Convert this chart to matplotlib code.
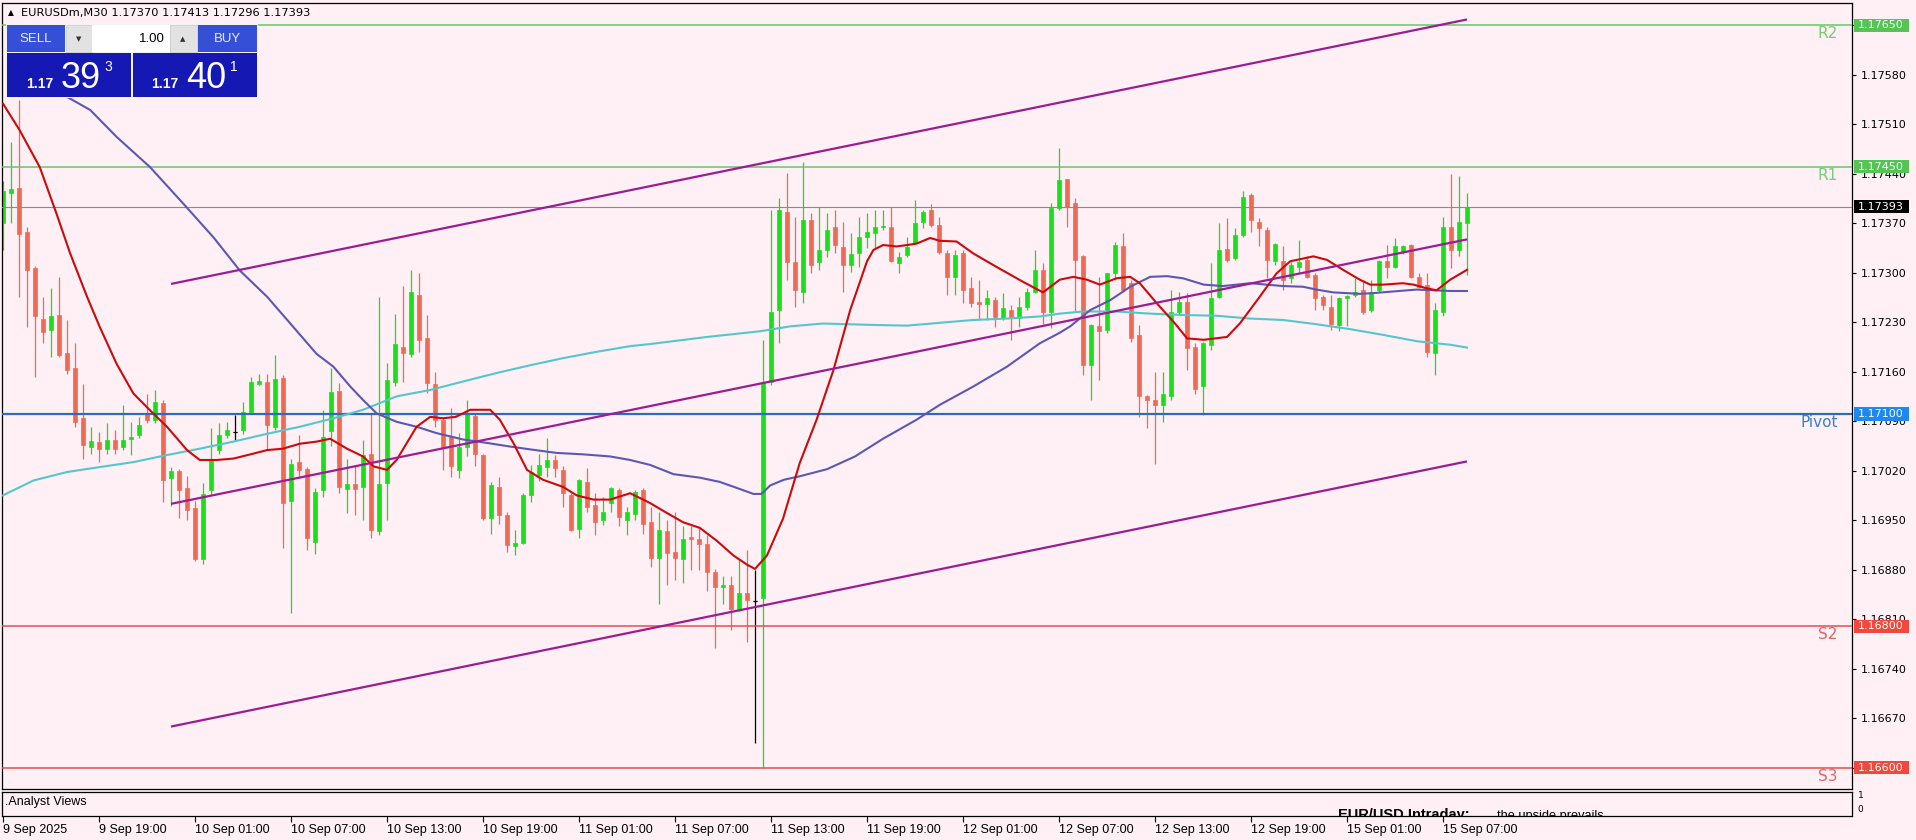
import matplotlib
matplotlib.use('Agg')
import matplotlib.pyplot as plt
import matplotlib.transforms as mtransforms
from matplotlib.patches import Rectangle
import numpy as np

plt.rcParams['font.family'] = ['DejaVu Sans']

W, H = 1916, 840
BG = '#FEF0F4'
BULL = '#18E018'
BEAR = '#EE6A55'

# ---------------- data ----------------
opens = [
1.17370, 1.17413, 1.17419, 1.17358, 1.17306, 1.17235, 1.17219, 1.17240, 1.17186, 1.17165,
1.17094, 1.17054, 1.17061, 1.17051, 1.17063, 1.17054, 1.17065, 1.17070, 1.17101, 1.17091,
1.17115, 1.17009, 1.17019, 1.16995, 1.16967, 1.16895, 1.16992, 1.17049, 1.17070, 1.17075,
1.17077, 1.17103, 1.17143, 1.17146, 1.17082, 1.17151, 1.16977, 1.17032, 1.17022, 1.16919,
1.16993, 1.17076, 1.17132, 1.16994, 1.17001, 1.16997, 1.17044, 1.16934, 1.17002, 1.17146,
1.17195, 1.17185, 1.17269, 1.17207, 1.17142, 1.17092, 1.17068, 1.17021, 1.17054, 1.17097,
1.17042, 1.16953, 1.16997, 1.16957, 1.16914, 1.16918, 1.16986, 1.17014, 1.17025, 1.17035,
1.17021, 1.16985, 1.16938, 1.17004, 1.16971, 1.16950, 1.16974, 1.16993, 1.16950, 1.16959,
1.16993, 1.16948, 1.16896, 1.16934, 1.16905, 1.16895, 1.16926, 1.16923, 1.16916, 1.16876,
1.16855, 1.16858, 1.16824, 1.16847, 1.16836, 1.16840, 1.17145, 1.17247, 1.17386, 1.17315,
1.17272, 1.17374, 1.17315, 1.17332, 1.17364, 1.17336, 1.17311, 1.17328, 1.17350, 1.17356,
1.17364, 1.17364, 1.17314, 1.17325, 1.17342, 1.17372, 1.17388, 1.17367, 1.17328, 1.17294,
1.17328, 1.17278, 1.17258, 1.17255, 1.17261, 1.17236, 1.17247, 1.17236, 1.17251, 1.17273,
1.17304, 1.17244, 1.17391, 1.17432, 1.17399, 1.17323, 1.17169, 1.17224, 1.17219, 1.17299,
1.17337, 1.17285, 1.17212, 1.17125, 1.17120, 1.17113, 1.17125, 1.17245, 1.17259, 1.17195,
1.17139, 1.17198, 1.17266, 1.17334, 1.17320, 1.17353, 1.17410, 1.17372, 1.17360, 1.17316,
1.17316, 1.17292, 1.17308, 1.17318, 1.17297, 1.17266, 1.17252, 1.17226, 1.17264, 1.17268,
1.17275, 1.17247, 1.17275, 1.17316, 1.17308, 1.17330, 1.17339, 1.17294, 1.17283, 1.17186,
1.17245, 1.17365, 1.17332, 1.17370]

highs = [
1.17430, 1.17485, 1.17544, 1.17365, 1.17310, 1.17266, 1.17278, 1.17294, 1.17233, 1.17200,
1.17143, 1.17082, 1.17075, 1.17087, 1.17077, 1.17113, 1.17089, 1.17096, 1.17129, 1.17134,
1.17120, 1.17025, 1.17022, 1.17012, 1.16977, 1.17002, 1.17080, 1.17087, 1.17089, 1.17099,
1.17117, 1.17153, 1.17157, 1.17157, 1.17183, 1.17155, 1.17036, 1.17070, 1.17025, 1.16995,
1.17105, 1.17165, 1.17144, 1.17037, 1.17026, 1.17063, 1.17101, 1.17266, 1.17172, 1.17242,
1.17281, 1.17304, 1.17299, 1.17240, 1.17160, 1.17094, 1.17108, 1.17073, 1.17120, 1.17101,
1.17043, 1.17004, 1.17011, 1.16962, 1.16936, 1.16989, 1.17028, 1.17043, 1.17066, 1.17042,
1.17026, 1.16988, 1.17008, 1.17023, 1.16988, 1.16983, 1.16997, 1.16995, 1.16969, 1.16993,
1.16995, 1.16969, 1.16962, 1.16950, 1.16962, 1.16942, 1.16942, 1.16939, 1.16929, 1.16881,
1.16871, 1.16871, 1.16895, 1.16908, 1.16879, 1.17205, 1.17388, 1.17405, 1.17441, 1.17379,
1.17456, 1.17384, 1.17393, 1.17384, 1.17388, 1.17371, 1.17356, 1.17379, 1.17384, 1.17388,
1.17388, 1.17393, 1.17329, 1.17350, 1.17403, 1.17388, 1.17397, 1.17379, 1.17332, 1.17332,
1.17332, 1.17294, 1.17290, 1.17275, 1.17265, 1.17271, 1.17254, 1.17265, 1.17278, 1.17332,
1.17314, 1.17398, 1.17476, 1.17433, 1.17406, 1.17325, 1.17228, 1.17294, 1.17300, 1.17344,
1.17356, 1.17290, 1.17226, 1.17127, 1.17160, 1.17160, 1.17275, 1.17273, 1.17271, 1.17200,
1.17202, 1.17313, 1.17370, 1.17377, 1.17363, 1.17415, 1.17412, 1.17377, 1.17365, 1.17342,
1.17337, 1.17315, 1.17346, 1.17323, 1.17299, 1.17268, 1.17268, 1.17266, 1.17269, 1.17292,
1.17290, 1.17290, 1.17318, 1.17339, 1.17349, 1.17339, 1.17341, 1.17299, 1.17299, 1.17257,
1.17379, 1.17440, 1.17436, 1.17413]

lows = [
1.17332, 1.17370, 1.17266, 1.17223, 1.17153, 1.17200, 1.17181, 1.17181, 1.17157, 1.17082,
1.17037, 1.17044, 1.17032, 1.17044, 1.17044, 1.17049, 1.17042, 1.17066, 1.17087, 1.17087,
1.16975, 1.16970, 1.16953, 1.16950, 1.16892, 1.16888, 1.16985, 1.17044, 1.17066, 1.17063,
1.17072, 1.17101, 1.17141, 1.17049, 1.17077, 1.16911, 1.16819, 1.17009, 1.16908, 1.16902,
1.16983, 1.17055, 1.16988, 1.16960, 1.16957, 1.16950, 1.16924, 1.16929, 1.16950, 1.17139,
1.17146, 1.17181, 1.17188, 1.17130, 1.17082, 1.17021, 1.17011, 1.17009, 1.17040, 1.17026,
1.16950, 1.16931, 1.16945, 1.16905, 1.16900, 1.16916, 1.16976, 1.17005, 1.17011, 1.17011,
1.16969, 1.16934, 1.16924, 1.16962, 1.16929, 1.16943, 1.16962, 1.16941, 1.16929, 1.16950,
1.16931, 1.16884, 1.16832, 1.16858, 1.16865, 1.16861, 1.16879, 1.16879, 1.16850, 1.16769,
1.16832, 1.16795, 1.16821, 1.16777, 1.16635, 1.16600, 1.17141, 1.17200, 1.17290, 1.17251,
1.17257, 1.17299, 1.17304, 1.17322, 1.17328, 1.17272, 1.17301, 1.17308, 1.17335, 1.17335,
1.17360, 1.17315, 1.17299, 1.17322, 1.17342, 1.17363, 1.17364, 1.17326, 1.17268, 1.17268,
1.17257, 1.17251, 1.17233, 1.17233, 1.17223, 1.17233, 1.17205, 1.17223, 1.17247, 1.17271,
1.17228, 1.17222, 1.17389, 1.17365, 1.17245, 1.17155, 1.17120, 1.17148, 1.17214, 1.17290,
1.17273, 1.17202, 1.17096, 1.17080, 1.17030, 1.17089, 1.17120, 1.17242, 1.17162, 1.17129,
1.17098, 1.17191, 1.17264, 1.17315, 1.17318, 1.17351, 1.17358, 1.17337, 1.17292, 1.17311,
1.17275, 1.17285, 1.17299, 1.17292, 1.17247, 1.17247, 1.17219, 1.17217, 1.17224, 1.17266,
1.17242, 1.17245, 1.17273, 1.17292, 1.17306, 1.17327, 1.17293, 1.17278, 1.17181, 1.17155,
1.17238, 1.17306, 1.17323, 1.17296]

closes = [
1.17415, 1.17418, 1.17355, 1.17304, 1.17238, 1.17216, 1.17238, 1.17183, 1.17162, 1.17089,
1.17056, 1.17062, 1.17051, 1.17063, 1.17051, 1.17063, 1.17067, 1.17084, 1.17091, 1.17117,
1.17007, 1.17019, 1.16992, 1.16964, 1.16895, 1.16987, 1.17035, 1.17070, 1.17077, 1.17075,
1.17103, 1.17146, 1.17147, 1.17084, 1.17150, 1.16974, 1.17029, 1.17021, 1.16925, 1.16990,
1.17068, 1.17131, 1.16997, 1.17001, 1.16994, 1.17042, 1.16936, 1.17001, 1.17148, 1.17199,
1.17187, 1.17273, 1.17205, 1.17144, 1.17092, 1.17054, 1.17026, 1.17054, 1.17101, 1.17043,
1.16953, 1.17000, 1.16957, 1.16915, 1.16918, 1.16986, 1.17018, 1.17028, 1.17035, 1.17023,
1.16988, 1.16936, 1.17007, 1.16969, 1.16948, 1.16962, 1.16995, 1.16955, 1.16962, 1.16990,
1.16945, 1.16896, 1.16936, 1.16903, 1.16896, 1.16923, 1.16923, 1.16916, 1.16876, 1.16855,
1.16858, 1.16824, 1.16847, 1.16837, 1.16836, 1.17144, 1.17244, 1.17389, 1.17315, 1.17275,
1.17374, 1.17311, 1.17332, 1.17360, 1.17339, 1.17311, 1.17326, 1.17350, 1.17357, 1.17364,
1.17366, 1.17316, 1.17322, 1.17336, 1.17370, 1.17386, 1.17367, 1.17329, 1.17294, 1.17325,
1.17275, 1.17257, 1.17256, 1.17264, 1.17237, 1.17250, 1.17236, 1.17251, 1.17273, 1.17304,
1.17244, 1.17391, 1.17431, 1.17393, 1.17318, 1.17169, 1.17226, 1.17217, 1.17299, 1.17339,
1.17275, 1.17207, 1.17125, 1.17120, 1.17113, 1.17128, 1.17245, 1.17259, 1.17193, 1.17136,
1.17200, 1.17264, 1.17332, 1.17318, 1.17353, 1.17407, 1.17374, 1.17363, 1.17318, 1.17341,
1.17290, 1.17311, 1.17315, 1.17294, 1.17264, 1.17254, 1.17228, 1.17264, 1.17267, 1.17273,
1.17245, 1.17273, 1.17316, 1.17308, 1.17337, 1.17338, 1.17294, 1.17280, 1.17188, 1.17247,
1.17365, 1.17332, 1.17372, 1.17393]

# moving averages (bar position, price)
red_ma_x = [0, 2.1, 4.6, 6.7, 8.4, 10.5, 12.1, 14.2, 16.3, 18.4, 20.5, 23, 24.6, 26.7, 28.8,
            31.3, 33, 35, 37.1, 39.2, 40.9, 43, 45, 46.3, 48, 49.2, 51.7, 53.4, 55, 56.6,
            58.4, 60.9, 62.1, 63.8, 65.5, 67.5, 70, 71.7, 73.8, 75.9, 78.4, 80.9, 83, 85, 87.1,
            89.2, 91.3, 93, 94, 95.5, 97.5, 99.6, 101.7, 103.8, 105.9, 108, 108.8, 110, 111.7, 113,
            114.2, 115.9, 117.1, 119.2, 121.3, 124.2, 127.5, 130, 132.1, 133.8, 135.5, 137.1, 139.2,
            140.9, 142.1, 144.2, 146.5, 148, 150.1, 153, 154.6, 157.1, 159.2, 160.9, 163.8, 165.5,
            167.5, 169.6, 170.9, 172.5, 175, 176.3, 177.9, 179.2, 180.9, 183]
red_ma_y = [1.17539, 1.17501, 1.17449, 1.17383, 1.17327, 1.17266, 1.17223, 1.17171, 1.17129,
            1.17105, 1.17082, 1.17049, 1.17035, 1.17035, 1.17037, 1.17044, 1.17049, 1.17051,
            1.17058, 1.17061, 1.17065, 1.17051, 1.17040, 1.17026, 1.17021, 1.17035, 1.17082,
            1.17096, 1.17094, 1.17096, 1.17106, 1.17106, 1.17092, 1.17059, 1.17021, 1.17007,
            1.16997, 1.16985, 1.16979, 1.16979, 1.16988, 1.16974, 1.16960, 1.16947, 1.16939,
            1.16921, 1.16900, 1.16887, 1.16881, 1.16900, 1.16952, 1.17031, 1.17092, 1.17162,
            1.17247, 1.17316, 1.17332, 1.17339, 1.17337, 1.17339, 1.17341, 1.17349, 1.17345,
            1.17344, 1.17327, 1.17308, 1.17287, 1.17272, 1.17290, 1.17294, 1.17290, 1.17283,
            1.17292, 1.17294, 1.17285, 1.17257, 1.17228, 1.17207, 1.17205, 1.17209, 1.17228,
            1.17266, 1.17299, 1.17316, 1.17323, 1.17318, 1.17304, 1.17290, 1.17283, 1.17283,
            1.17285, 1.17283, 1.17278, 1.17275, 1.17290, 1.17304]

blue_ma_x = [4, 8.4, 10.9, 14.2, 18.4, 22.5, 26.3, 29.6, 33, 36.3, 39.2, 41.3, 43.4, 45, 46.7,
             49.2, 51.7, 54.2, 57.5, 60, 63.4, 65.9, 69.2, 72.5, 75.9, 78.4, 80.9, 83.8, 87.1,
             89.6, 92.1, 93.8, 94.8, 95.9, 97.6, 99.6, 103, 106.5, 110, 114.2, 117.1, 121.3,
             125.5, 129.6, 132.1, 133.4, 135.9, 138.4, 140.9, 143.4, 145.5, 147.5, 150.1, 152.5,
             155.9, 160, 162.5, 164.2, 166.3, 169.6, 171.3, 173.4, 176.7, 178.8, 180.9, 183]
blue_ma_y = [1.17574, 1.17546, 1.17530, 1.17492, 1.17449, 1.17398, 1.17350, 1.17303, 1.17266,
             1.17223, 1.17185, 1.17167, 1.17139, 1.17120, 1.17101, 1.17089, 1.17082, 1.17073,
             1.17064, 1.17060, 1.17054, 1.17050, 1.17045, 1.17043, 1.17040, 1.17035, 1.17028,
             1.17015, 1.17010, 1.17004, 1.16994, 1.16987, 1.16987, 1.16999, 1.17007, 1.17012,
             1.17022, 1.17040, 1.17065, 1.17092, 1.17113, 1.17139, 1.17167, 1.17200, 1.17215,
             1.17224, 1.17247, 1.17261, 1.17280, 1.17294, 1.17295, 1.17292, 1.17283, 1.17281,
             1.17285, 1.17281, 1.17280, 1.17276, 1.17272, 1.17270, 1.17271, 1.17273, 1.17276,
             1.17275, 1.17274, 1.17274]

cyan_ma_x = [0, 3.8, 8, 12.1, 16.3, 20.5, 24.6, 28.8, 33, 37.1, 41.3, 45, 49.2, 53.4, 57.5,
             61.7, 65.9, 70, 74.2, 78.4, 80.9, 88, 94.6, 98.4, 102.5, 108.8, 113, 117.1, 121.3,
             125.5, 129.6, 132.1, 135, 139.2, 143.4, 147.5, 151.7, 155.9, 160, 164.2, 168.4,
             172.5, 176.7, 180.9, 183]
cyan_ma_y = [1.16985, 1.17006, 1.17018, 1.17025, 1.17032, 1.17042, 1.17051, 1.17061, 1.17072,
             1.17082, 1.17094, 1.17106, 1.17125, 1.17134, 1.17146, 1.17158, 1.17169, 1.17179,
             1.17188, 1.17196, 1.17199, 1.17209, 1.17217, 1.17224, 1.17228, 1.17226, 1.17225,
             1.17229, 1.17233, 1.17235, 1.17238, 1.17242, 1.17245, 1.17245, 1.17242, 1.17240,
             1.17239, 1.17235, 1.17233, 1.17227, 1.17220, 1.17212, 1.17203, 1.17198, 1.17194]

channel_x = [21, 183]
channel_upper = [1.17284, 1.17658]
channel_middle = [1.16973, 1.17347]
channel_lower = [1.16658, 1.17033]

level_names = ['R2', 'R1', 'Pivot', 'S2', 'S3']
level_values = [1.17650, 1.17450, 1.17100, 1.16800, 1.16600]
level_colors = ['#66C866', '#66C866', '#2470BC', '#E0504A', '#E0504A']
level_text_colors = ['#78CD78', '#78CD78', '#3A80C6', '#E26464', '#E26464']
level_box_colors = ['#55C455', '#55C455', '#1E88F0', '#F2473D', '#F2473D']
last_price = 1.17393

price_ticks = [1.16600, 1.16670, 1.16740, 1.16810, 1.16880, 1.16950, 1.17020, 1.17090,
               1.17160, 1.17230, 1.17300, 1.17370, 1.17440, 1.17510, 1.17580, 1.17650]
time_tick_bars = [0, 12, 24, 36, 48, 60, 72, 84, 96, 108, 120, 132, 144, 156, 168, 180]
time_labels = ['9 Sep 2025', '9 Sep 19:00', '10 Sep 01:00', '10 Sep 07:00', '10 Sep 13:00',
               '10 Sep 19:00', '11 Sep 01:00', '11 Sep 07:00', '11 Sep 13:00', '11 Sep 19:00',
               '12 Sep 01:00', '12 Sep 07:00', '12 Sep 13:00', '12 Sep 19:00', '15 Sep 01:00',
               '15 Sep 07:00']

title_text = 'EURUSDm,M30 1.17370 1.17413 1.17296 1.17393'

# ---------------- figure ----------------
fig = plt.figure(figsize=(W / 100, H / 100), dpi=100, facecolor=BG)
ax = fig.add_axes([2 / W, 1 - 789 / H, 1850 / W, 786 / H])
ax.set_facecolor(BG)
ax.set_xlim(-0.125, 231.125)
ax.set_ylim(1.165697, 1.176813)
for s in ax.spines.values():
    s.set_color('black'); s.set_linewidth(0.9)
ax.set_xticks([])
ax.yaxis.tick_right()
ax.set_yticks(price_ticks)
ax.set_yticklabels([f'{v:.5f}' for v in price_ticks])
ax.tick_params(axis='y', direction='out', length=3, width=0.8, pad=3, labelsize=8, colors='black')

# candles
x = np.arange(len(opens))
o = np.array(opens); hh = np.array(highs); ll = np.array(lows); c = np.array(closes)
cols = np.where(c > o, BULL, np.where(c < o, BEAR, 'black'))
ax.vlines(x, ll, hh, colors=cols, linewidth=0.9, zorder=2)
ax.bar(x, np.abs(c - o), bottom=np.minimum(o, c), width=0.62, color=cols,
       edgecolor=cols, linewidth=0.5, zorder=2.2)
doji = c == o
ax.hlines(o[doji], x[doji] - 0.31, x[doji] + 0.31, colors='black', linewidth=0.9, zorder=2.3)

# level lines
trans = mtransforms.blended_transform_factory(ax.transAxes, ax.transData)
for nm, v, lc in zip(level_names, level_values, level_colors):
    ax.axhline(v, color=lc, linewidth=1.6 if nm == 'Pivot' else 1.1, zorder=2.6)
ax.axhline(last_price, color='#8A8A8A', linewidth=0.8, zorder=2.6)

# moving averages
ax.plot(cyan_ma_x, cyan_ma_y, color='#55C6CC', linewidth=1.5, zorder=3)
ax.plot(blue_ma_x, blue_ma_y, color='#5A58B4', linewidth=1.5, zorder=3.1)
ax.plot(red_ma_x, red_ma_y, color='#CC0A0A', linewidth=1.5, zorder=3.2)

# channel
for ch in (channel_upper, channel_middle, channel_lower):
    ax.plot(channel_x, ch, color='#9C1C94', linewidth=1.6, zorder=3.5, solid_capstyle='butt')

# level labels in chart
lvl_trans = mtransforms.offset_copy(trans, fig=fig, x=0, y=-1, units='dots')
for nm, v, tc in zip(level_names, level_values, level_text_colors):
    ax.text(0.9922, v, nm, transform=lvl_trans, ha='right', va='top', fontsize=11,
            color=tc, zorder=4)

# price boxes on the right scale
box_h = 0.000185
def price_box(v, fc, tc):
    ax.add_patch(Rectangle((1.0011, v - box_h / 2), 0.0297, box_h, transform=trans,
                           facecolor=fc, edgecolor='none', clip_on=False, zorder=5))
    ax.text(1.0157, v, f'{v:.5f}', transform=trans, ha='center', va='center', fontsize=8,
            color=tc, clip_on=False, zorder=6)

for v, bc in zip(level_values, level_box_colors):
    price_box(v, bc, '#F4FFF4')
price_box(last_price, 'black', 'white')

# ---------------- sub window ----------------
sub = fig.add_axes([2 / W, 1 - 816 / H, 1850 / W, 24 / H])
sub.set_facecolor(BG)
sub.set_xlim(-0.125, 231.125)
sub.set_ylim(-0.615, 1.23)
for s in sub.spines.values():
    s.set_color('black'); s.set_linewidth(0.9)
sub.set_xticks(time_tick_bars)
sub.set_xticklabels(time_labels, family='Liberation Sans', fontsize=9)
for lab in sub.get_xticklabels():
    lab.set_horizontalalignment('left')
sub.tick_params(axis='x', direction='out', length=4, width=0.8, pad=1.5, colors='black')
sub.yaxis.tick_right()
sub.set_yticks([0, 1])
sub.set_yticklabels(['0', '1'])
sub.tick_params(axis='y', length=0, pad=4, labelsize=6.5)
sub.text(3 / 1850, 0.6, '.Analyst Views', transform=sub.transAxes, ha='left', va='center',
         fontsize=9, family='Liberation Sans')
sub.text(0.7222, -0.13, 'EUR/USD Intraday:', transform=sub.transAxes, ha='left',
         va='baseline', fontsize=10.5, fontweight='bold', family='Liberation Sans', clip_on=True)
sub.text(0.8081, -0.13, 'the upside prevails.', transform=sub.transAxes, ha='left',
         va='baseline', fontsize=9.2, family='Liberation Sans', clip_on=True)

# ---------------- overlay: title & trading panel ----------------
ov = fig.add_axes([0, 0, 1, 1], zorder=20)
ov.set_xlim(0, W); ov.set_ylim(H, 0); ov.axis('off'); ov.patch.set_alpha(0)

ov.text(11, 13, '\u25b2', ha='center', va='center', fontsize=5.5, color='black')
ov.text(21, 13, title_text, ha='left', va='center', fontsize=8.2, color='black')

def rbox(x0, y0, x1, y1, fc, ec='none', lw=0):
    ov.add_patch(Rectangle((x0, y0), x1 - x0, y1 - y0, facecolor=fc, edgecolor=ec, linewidth=lw))

rbox(6, 24, 258, 98, '#F2F2F2')
rbox(7, 25, 65, 52, '#3550D6')
rbox(66, 25, 92, 52, '#E2E2E2', '#C8C8C8', 0.5)
rbox(92, 25, 170, 52, '#FFFFFF')
rbox(170, 25, 197, 52, '#E2E2E2', '#C8C8C8', 0.5)
rbox(198, 25, 257, 52, '#3550D6')
rbox(7, 53, 131, 97, '#1518B2')
rbox(133, 53, 257, 97, '#1518B2')

ov.text(36, 39, 'SELL', ha='center', va='center', fontsize=9.5, color='#E8EEFF',
        family='Liberation Sans')
ov.text(227, 39, 'BUY', ha='center', va='center', fontsize=9.5, color='#E8EEFF',
        family='Liberation Sans')
ov.text(79, 39, '\u25bc', ha='center', va='center', fontsize=5, color='#333333')
ov.text(183, 39, '\u25b2', ha='center', va='center', fontsize=5, color='#333333')
ov.text(165, 39, '1.00', ha='right', va='center', fontsize=9.5, color='black',
        family='Liberation Sans')

ov.text(26, 88, '1.17', ha='left', va='baseline', fontsize=10, fontweight='bold',
        color='white', family='Liberation Sans')
ov.text(61, 88, '39', ha='left', va='baseline', fontsize=26, color='white',
        family='Liberation Sans')
ov.text(104, 71, '3', ha='left', va='baseline', fontsize=10, color='white',
        family='Liberation Sans')
ov.text(151, 88, '1.17', ha='left', va='baseline', fontsize=10, fontweight='bold',
        color='white', family='Liberation Sans')
ov.text(186, 88, '40', ha='left', va='baseline', fontsize=26, color='white',
        family='Liberation Sans')
ov.text(230, 71, '1', ha='left', va='baseline', fontsize=10, color='white',
        family='Liberation Sans')

fig.savefig('out.png', dpi=100, facecolor=BG)
